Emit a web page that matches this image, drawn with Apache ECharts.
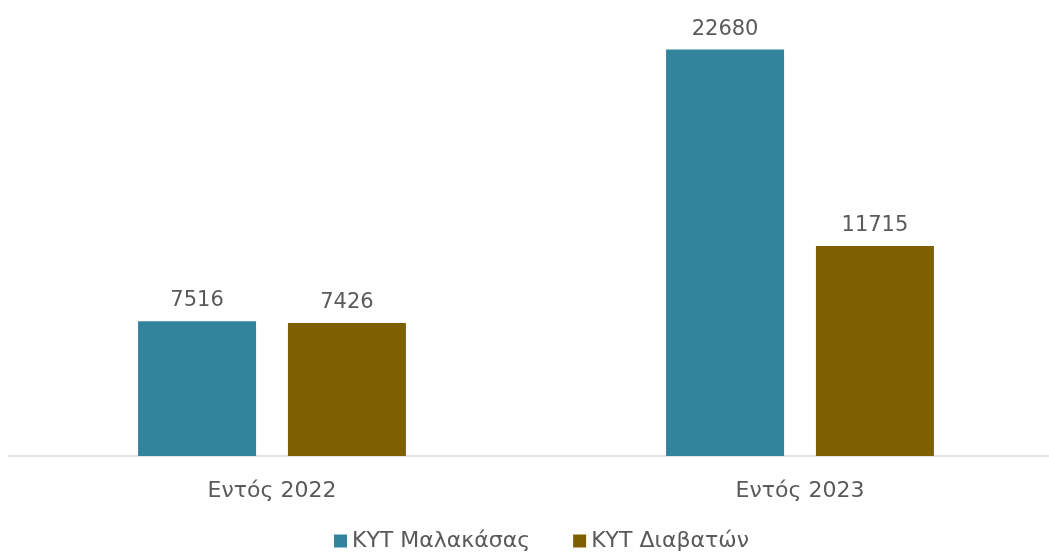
<!DOCTYPE html>
<html>
<head>
<meta charset="utf-8">
<script src="https://cdn.jsdelivr.net/npm/echarts@6/dist/echarts.min.js"></script>
<style>
  html, body { margin: 0; padding: 0; background: #fff; overflow: hidden; }
  #main { width: 1064px; height: 554px; }
</style>
</head>
<body>
<div id="main"></div>
<script>
var categories = ['Εντός 2022', 'Εντός 2023'];
var malakasa = [7516, 22680];
var diavata = [7426, 11715];
var seriesNames = ['ΚΥΤ Μαλακάσας', 'ΚΥΤ Διαβατών'];

var myChart = echarts.init(document.getElementById('main'));
var fontFamily = '"DejaVu Sans", sans-serif';
var textColor = '#5a5a5a';
var label = {
  show: true,
  position: 'top',
  distance: 10,
  color: textColor,
  fontSize: 21,
  fontFamily: fontFamily
};
var option = {
  animation: false,
  grid: { left: 8, right: 0, top: 8, bottom: 98 },
  legend: {
    data: seriesNames,
    left: 329,
    bottom: -3,
    itemWidth: 13,
    itemHeight: 13,
    itemGap: 43,
    icon: 'rect',
    textStyle: { color: textColor, fontSize: 22, fontFamily: fontFamily }
  },
  xAxis: {
    type: 'category',
    data: categories,
    axisLine: { lineStyle: { color: '#d9d9d9', width: 1.5 } },
    axisTick: { show: false },
    axisLabel: { color: textColor, fontSize: 22, fontFamily: fontFamily, margin: 24 }
  },
  yAxis: {
    type: 'value',
    min: 0,
    max: 25000,
    show: false,
    splitLine: { show: false }
  },
  series: [{
    name: seriesNames[0],
    type: 'bar',
    data: malakasa,
    barWidth: 118,
    barGap: '27%',
    itemStyle: { color: '#31849b' },
    label: label
  }, {
    name: seriesNames[1],
    type: 'bar',
    data: diavata,
    barWidth: 118,
    itemStyle: { color: '#7f6000' },
    label: label
  }]
};
myChart.setOption(option);
</script>
</body>
</html>
